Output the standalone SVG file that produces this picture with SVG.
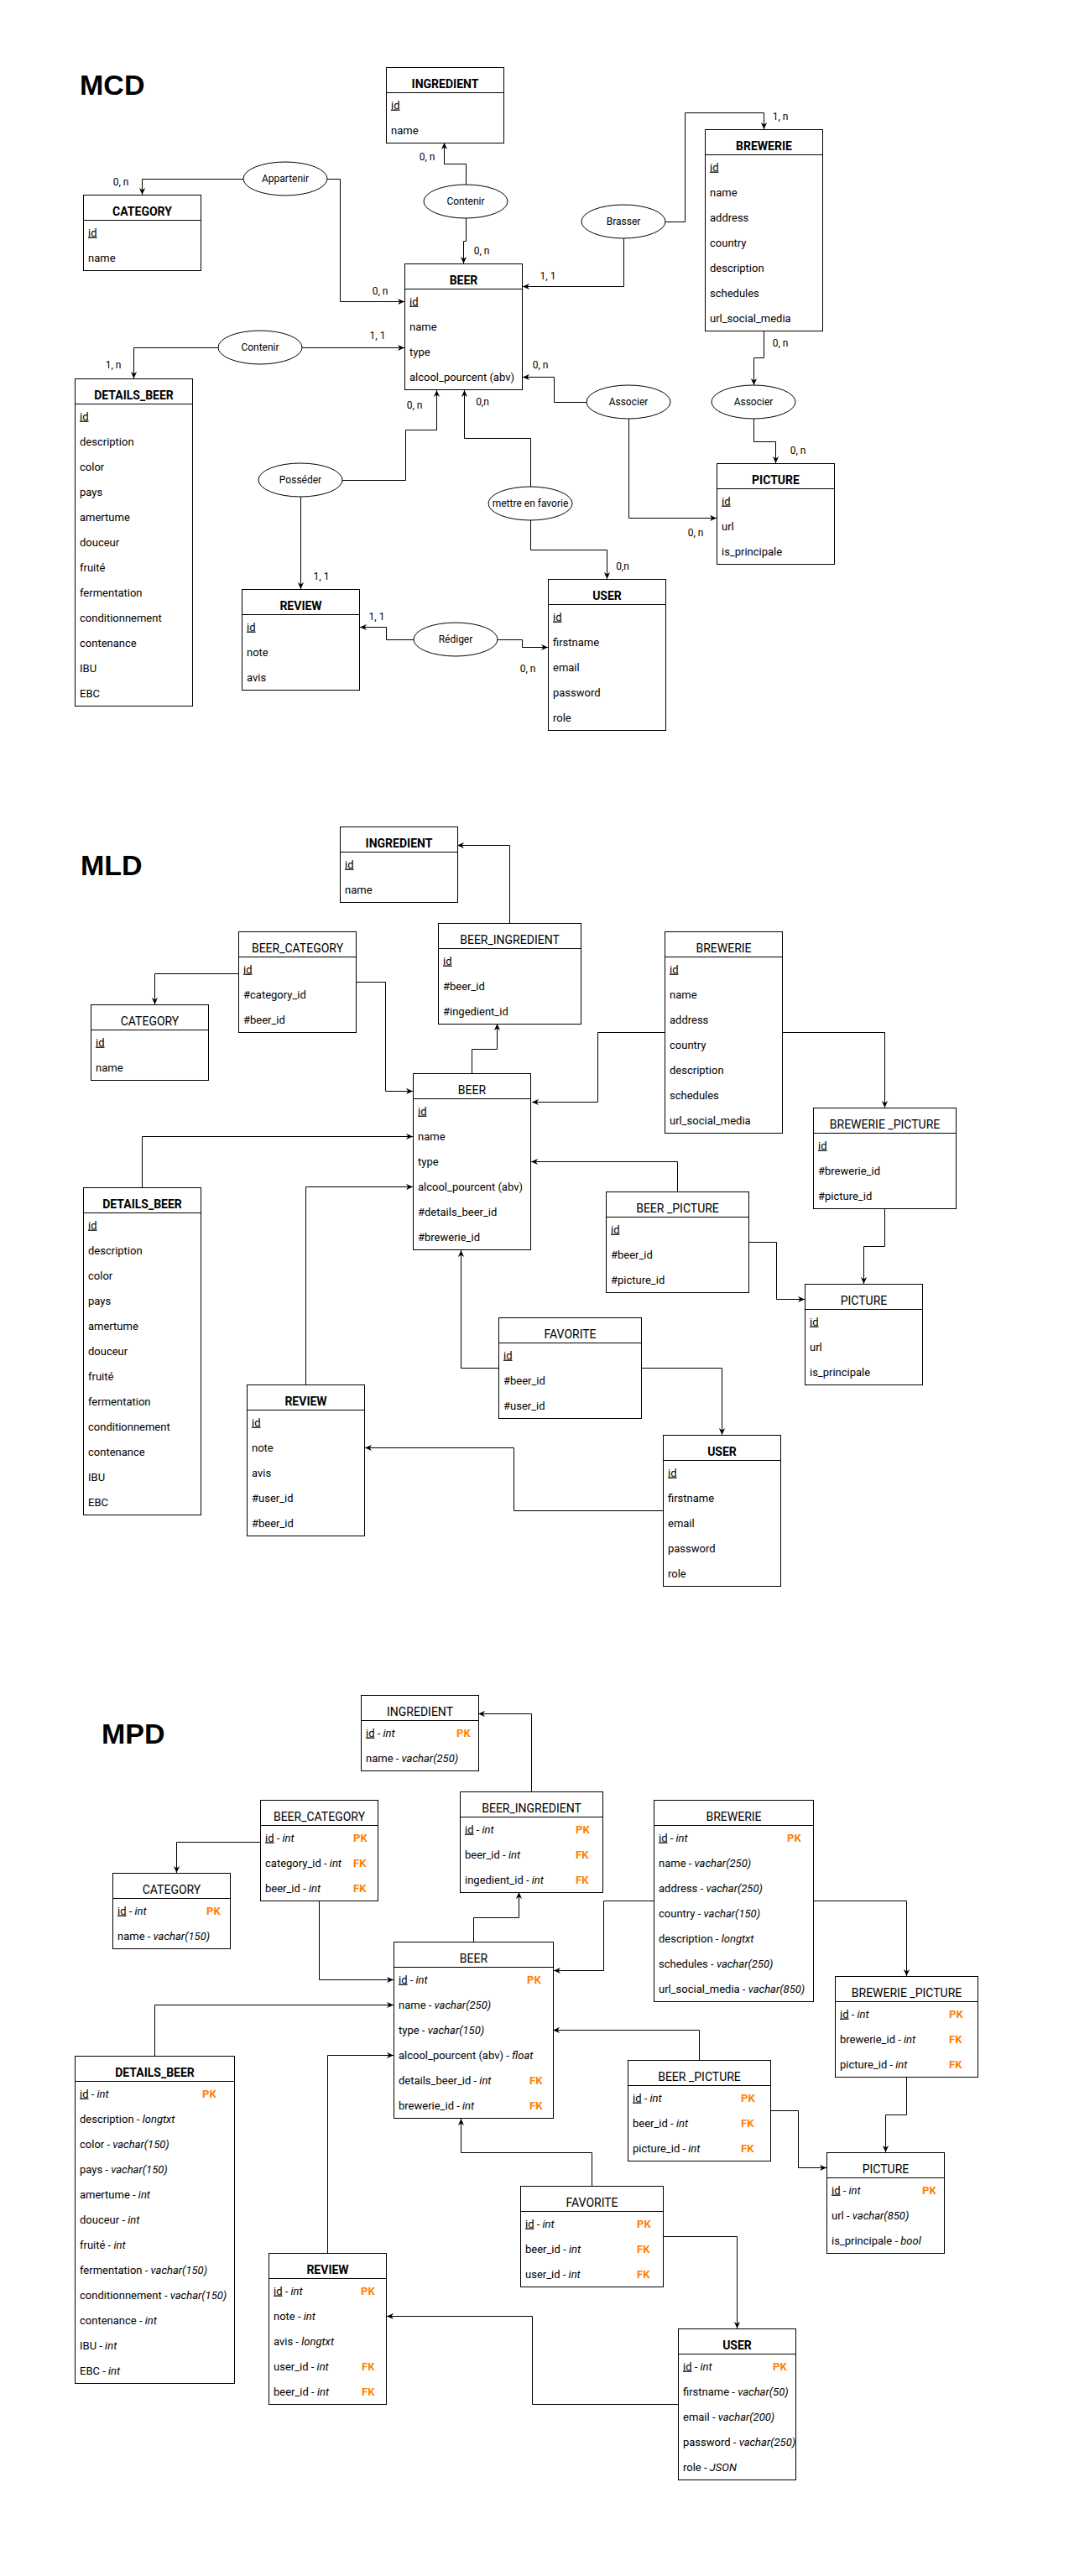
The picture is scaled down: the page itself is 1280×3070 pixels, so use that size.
<svg xmlns="http://www.w3.org/2000/svg" width="1280" height="3070" viewBox="0 0 1280 3070">
<defs>
<style>
text{font-family:Roboto,"Liberation Sans",Arial,sans-serif;fill:#000}
.box{fill:#fff;stroke:#000;stroke-width:1}
.sep{stroke:#000;stroke-width:1}
.title{font-family:"Liberation Sans",Arial,sans-serif;font-size:34px;font-weight:bold}
.hd{font-size:14px;text-anchor:middle}
.b{font-weight:bold}
.row{font-size:13px}
.u{text-decoration:underline}
.t{font-style:italic}
.key{font-size:13px;font-weight:bold;fill:#FF8000}
.rel{fill:#fff;stroke:#000;stroke-width:1}
.rlt{font-size:12px;text-anchor:middle}
.card{font-size:12px;text-anchor:middle}
.cx{fill:none;stroke:#000;stroke-width:1;marker-end:url(#arr)}
</style>
<marker id="arr" viewBox="0 0 10 10" refX="10" refY="5" markerWidth="8" markerHeight="8" orient="auto" markerUnits="userSpaceOnUse">
<path d="M0,0.5 L10,5 L0,9.5 L3,5 Z" fill="#000"/>
</marker>
</defs>
<rect x="0" y="0" width="1280" height="3070" fill="#fff"/>

<!-- ===================== MCD ===================== -->
<text class="title" x="95" y="113">MCD</text>

<g id="mcd-links">
<path class="cx" d="M290,213.5 H169.5 V232"/>
<path class="cx" d="M390,213.5 H405.5 V359.5 H482"/>
<path class="cx" d="M555.5,220 V195.5 H529.5 V170"/>
<path class="cx" d="M555.5,260 V287.5 H552.5 V314"/>
<path class="cx" d="M260,414.5 H159.5 V451"/>
<path class="cx" d="M360,414.5 H482"/>
<path class="cx" d="M793,264.5 H816.5 V134.5 H910.5 V154"/>
<path class="cx" d="M743.5,284 V341.5 H623"/>
<path class="cx" d="M910.5,394 V426.5 H898.5 V459"/>
<path class="cx" d="M898.5,499 V526.5 H924.5 V552"/>
<path class="cx" d="M699,479.5 H660.5 V449.5 H623"/>
<path class="cx" d="M749.5,499 V617.5 H854"/>
<path class="cx" d="M632.5,580 V522.5 H553.5 V465"/>
<path class="cx" d="M632.5,620 V655.5 H723.5 V690"/>
<path class="cx" d="M408,572.5 H483.5 V512.5 H520.5 V465"/>
<path class="cx" d="M358.5,592 V702"/>
<path class="cx" d="M493,762.5 H460.5 V747.5 H429"/>
<path class="cx" d="M593,762.5 H622.5 V771.5 H653"/>
</g>

<g id="mcd-cardinalities">
<text class="card" x="144" y="221">0, n</text>
<text class="card" x="453" y="351">0, n</text>
<text class="card" x="509" y="191">0, n</text>
<text class="card" x="574" y="303">0, n</text>
<text class="card" x="135" y="439">1, n</text>
<text class="card" x="450" y="404">1, 1</text>
<text class="card" x="930" y="143">1, n</text>
<text class="card" x="653" y="333">1, 1</text>
<text class="card" x="930" y="413">0, n</text>
<text class="card" x="951" y="541">0, n</text>
<text class="card" x="644" y="439">0, n</text>
<text class="card" x="829" y="639">0, n</text>
<text class="card" x="575" y="483">0,n</text>
<text class="card" x="742" y="679">0,n</text>
<text class="card" x="494" y="487">0, n</text>
<text class="card" x="383" y="691">1, 1</text>
<text class="card" x="449" y="739">1, 1</text>
<text class="card" x="629" y="801">0, n</text>
</g>

<g id="mcd-appartenir"><ellipse class="rel" cx="340" cy="213" rx="50" ry="20"/><text class="rlt" x="340" y="217">Appartenir</text></g>
<g id="mcd-contenir-ingredient"><ellipse class="rel" cx="555" cy="240" rx="50" ry="20"/><text class="rlt" x="555" y="244">Contenir</text></g>
<g id="mcd-contenir-details"><ellipse class="rel" cx="310" cy="414" rx="50" ry="20"/><text class="rlt" x="310" y="418">Contenir</text></g>
<g id="mcd-brasser"><ellipse class="rel" cx="743" cy="264" rx="50" ry="20"/><text class="rlt" x="743" y="268">Brasser</text></g>
<g id="mcd-associer-beer"><ellipse class="rel" cx="749" cy="479" rx="50" ry="20"/><text class="rlt" x="749" y="483">Associer</text></g>
<g id="mcd-associer-brewerie"><ellipse class="rel" cx="898" cy="479" rx="50" ry="20"/><text class="rlt" x="898" y="483">Associer</text></g>
<g id="mcd-favorie"><ellipse class="rel" cx="632" cy="600" rx="50" ry="20"/><text class="rlt" x="632" y="604">mettre en favorie</text></g>
<g id="mcd-posseder"><ellipse class="rel" cx="358" cy="572" rx="50" ry="20"/><text class="rlt" x="358" y="576">Posséder</text></g>
<g id="mcd-rediger"><ellipse class="rel" cx="543" cy="762" rx="50" ry="20"/><text class="rlt" x="543" y="766">Rédiger</text></g>

<g id="mcd-ingredient">
<rect class="box" x="460.5" y="80.5" width="140" height="90"/>
<line class="sep" x1="460.5" y1="110.5" x2="600.5" y2="110.5"/>
<text class="hd b" x="530.5" y="105">INGREDIENT</text>
<text class="row" x="466" y="129.5"><tspan class="u">id</tspan></text>
<text class="row" x="466" y="159.5">name</text>
</g>

<g id="mcd-category">
<rect class="box" x="99.5" y="232.5" width="140" height="90"/>
<line class="sep" x1="99.5" y1="262.5" x2="239.5" y2="262.5"/>
<text class="hd b" x="169.5" y="257">CATEGORY</text>
<text class="row" x="105" y="281.5"><tspan class="u">id</tspan></text>
<text class="row" x="105" y="311.5">name</text>
</g>

<g id="mcd-beer">
<rect class="box" x="482.5" y="314.5" width="140" height="150"/>
<line class="sep" x1="482.5" y1="344.5" x2="622.5" y2="344.5"/>
<text class="hd b" x="552.5" y="339">BEER</text>
<text class="row" x="488" y="363.5"><tspan class="u">id</tspan></text>
<text class="row" x="488" y="393.5">name</text>
<text class="row" x="488" y="423.5">type</text>
<text class="row" x="488" y="453.5">alcool_pourcent (abv)</text>
</g>

<g id="mcd-brewerie">
<rect class="box" x="840.5" y="154.5" width="140" height="240"/>
<line class="sep" x1="840.5" y1="184.5" x2="980.5" y2="184.5"/>
<text class="hd b" x="910.5" y="179">BREWERIE</text>
<text class="row" x="846" y="203.5"><tspan class="u">id</tspan></text>
<text class="row" x="846" y="233.5">name</text>
<text class="row" x="846" y="263.5">address</text>
<text class="row" x="846" y="293.5">country</text>
<text class="row" x="846" y="323.5">description</text>
<text class="row" x="846" y="353.5">schedules</text>
<text class="row" x="846" y="383.5">url_social_media</text>
</g>

<g id="mcd-details-beer">
<rect class="box" x="89.5" y="451.5" width="140" height="390"/>
<line class="sep" x1="89.5" y1="481.5" x2="229.5" y2="481.5"/>
<text class="hd b" x="159.5" y="476">DETAILS_BEER</text>
<text class="row" x="95" y="500.5"><tspan class="u">id</tspan></text>
<text class="row" x="95" y="530.5">description</text>
<text class="row" x="95" y="560.5">color</text>
<text class="row" x="95" y="590.5">pays</text>
<text class="row" x="95" y="620.5">amertume</text>
<text class="row" x="95" y="650.5">douceur</text>
<text class="row" x="95" y="680.5">fruité</text>
<text class="row" x="95" y="710.5">fermentation</text>
<text class="row" x="95" y="740.5">conditionnement</text>
<text class="row" x="95" y="770.5">contenance</text>
<text class="row" x="95" y="800.5">IBU</text>
<text class="row" x="95" y="830.5">EBC</text>
</g>

<g id="mcd-review">
<rect class="box" x="288.5" y="702.5" width="140" height="120"/>
<line class="sep" x1="288.5" y1="732.5" x2="428.5" y2="732.5"/>
<text class="hd b" x="358.5" y="727">REVIEW</text>
<text class="row" x="294" y="751.5"><tspan class="u">id</tspan></text>
<text class="row" x="294" y="781.5">note</text>
<text class="row" x="294" y="811.5">avis</text>
</g>

<g id="mcd-user">
<rect class="box" x="653.5" y="690.5" width="140" height="180"/>
<line class="sep" x1="653.5" y1="720.5" x2="793.5" y2="720.5"/>
<text class="hd b" x="723.5" y="715">USER</text>
<text class="row" x="659" y="739.5"><tspan class="u">id</tspan></text>
<text class="row" x="659" y="769.5">firstname</text>
<text class="row" x="659" y="799.5">email</text>
<text class="row" x="659" y="829.5">password</text>
<text class="row" x="659" y="859.5">role</text>
</g>

<g id="mcd-picture">
<rect class="box" x="854.5" y="552.5" width="140" height="120"/>
<line class="sep" x1="854.5" y1="582.5" x2="994.5" y2="582.5"/>
<text class="hd b" x="924.5" y="577">PICTURE</text>
<text class="row" x="860" y="601.5"><tspan class="u">id</tspan></text>
<text class="row" x="860" y="631.5">url</text>
<text class="row" x="860" y="661.5">is_principale</text>
</g>

<!-- ===================== MLD ===================== -->
<text class="title" x="96" y="1043">MLD</text>

<g id="mld-links">
<path class="cx" d="M607.5,1100 V1007.5 H545"/>
<path class="cx" d="M562.5,1279 V1250.5 H592.5 V1220"/>
<path class="cx" d="M284,1160.5 H184.5 V1197"/>
<path class="cx" d="M424,1170.5 H459.5 V1300.5 H492"/>
<path class="cx" d="M792,1230.5 H712.5 V1313.5 H634"/>
<path class="cx" d="M932,1230.5 H1054.5 V1320"/>
<path class="cx" d="M1054.5,1440 V1485.5 H1029.5 V1530"/>
<path class="cx" d="M892,1480.5 H925.5 V1548.5 H959"/>
<path class="cx" d="M807.5,1420 V1384.5 H633"/>
<path class="cx" d="M594,1630.5 H549.5 V1490"/>
<path class="cx" d="M764,1630.5 H860.5 V1710"/>
<path class="cx" d="M790,1800.5 H612.5 V1725.5 H435"/>
<path class="cx" d="M364.5,1650 V1414.5 H492"/>
<path class="cx" d="M169.5,1415 V1354.5 H492"/>
</g>

<g id="mld-ingredient">
<rect class="box" x="405.5" y="985.5" width="140" height="90"/>
<line class="sep" x1="405.5" y1="1015.5" x2="545.5" y2="1015.5"/>
<text class="hd b" x="475.5" y="1010">INGREDIENT</text>
<text class="row" x="411" y="1034.5"><tspan class="u">id</tspan></text>
<text class="row" x="411" y="1064.5">name</text>
</g>

<g id="mld-beer-category">
<rect class="box" x="284.5" y="1110.5" width="140" height="120"/>
<line class="sep" x1="284.5" y1="1140.5" x2="424.5" y2="1140.5"/>
<text class="hd" x="354.5" y="1135">BEER_CATEGORY</text>
<text class="row" x="290" y="1159.5"><tspan class="u">id</tspan></text>
<text class="row" x="290" y="1189.5">#category_id</text>
<text class="row" x="290" y="1219.5">#beer_id</text>
</g>

<g id="mld-category">
<rect class="box" x="108.5" y="1197.5" width="140" height="90"/>
<line class="sep" x1="108.5" y1="1227.5" x2="248.5" y2="1227.5"/>
<text class="hd" x="178.5" y="1222">CATEGORY</text>
<text class="row" x="114" y="1246.5"><tspan class="u">id</tspan></text>
<text class="row" x="114" y="1276.5">name</text>
</g>

<g id="mld-beer-ingredient">
<rect class="box" x="522.5" y="1100.5" width="170" height="120"/>
<line class="sep" x1="522.5" y1="1130.5" x2="692.5" y2="1130.5"/>
<text class="hd" x="607.5" y="1125">BEER_INGREDIENT</text>
<text class="row" x="528" y="1149.5"><tspan class="u">id</tspan></text>
<text class="row" x="528" y="1179.5">#beer_id</text>
<text class="row" x="528" y="1209.5">#ingedient_id</text>
</g>

<g id="mld-beer">
<rect class="box" x="492.5" y="1279.5" width="140" height="210"/>
<line class="sep" x1="492.5" y1="1309.5" x2="632.5" y2="1309.5"/>
<text class="hd" x="562.5" y="1304">BEER</text>
<text class="row" x="498" y="1328.5"><tspan class="u">id</tspan></text>
<text class="row" x="498" y="1358.5">name</text>
<text class="row" x="498" y="1388.5">type</text>
<text class="row" x="498" y="1418.5">alcool_pourcent (abv)</text>
<text class="row" x="498" y="1448.5">#details_beer_id</text>
<text class="row" x="498" y="1478.5">#brewerie_id</text>
</g>

<g id="mld-brewerie">
<rect class="box" x="792.5" y="1110.5" width="140" height="240"/>
<line class="sep" x1="792.5" y1="1140.5" x2="932.5" y2="1140.5"/>
<text class="hd" x="862.5" y="1135">BREWERIE</text>
<text class="row" x="798" y="1159.5"><tspan class="u">id</tspan></text>
<text class="row" x="798" y="1189.5">name</text>
<text class="row" x="798" y="1219.5">address</text>
<text class="row" x="798" y="1249.5">country</text>
<text class="row" x="798" y="1279.5">description</text>
<text class="row" x="798" y="1309.5">schedules</text>
<text class="row" x="798" y="1339.5">url_social_media</text>
</g>

<g id="mld-brewerie-picture">
<rect class="box" x="969.5" y="1320.5" width="170" height="120"/>
<line class="sep" x1="969.5" y1="1350.5" x2="1139.5" y2="1350.5"/>
<text class="hd" x="1054.5" y="1345">BREWERIE _PICTURE</text>
<text class="row" x="975" y="1369.5"><tspan class="u">id</tspan></text>
<text class="row" x="975" y="1399.5">#brewerie_id</text>
<text class="row" x="975" y="1429.5">#picture_id</text>
</g>

<g id="mld-beer-picture">
<rect class="box" x="722.5" y="1420.5" width="170" height="120"/>
<line class="sep" x1="722.5" y1="1450.5" x2="892.5" y2="1450.5"/>
<text class="hd" x="807.5" y="1445">BEER _PICTURE</text>
<text class="row" x="728" y="1469.5"><tspan class="u">id</tspan></text>
<text class="row" x="728" y="1499.5">#beer_id</text>
<text class="row" x="728" y="1529.5">#picture_id</text>
</g>

<g id="mld-picture">
<rect class="box" x="959.5" y="1530.5" width="140" height="120"/>
<line class="sep" x1="959.5" y1="1560.5" x2="1099.5" y2="1560.5"/>
<text class="hd" x="1029.5" y="1555">PICTURE</text>
<text class="row" x="965" y="1579.5"><tspan class="u">id</tspan></text>
<text class="row" x="965" y="1609.5">url</text>
<text class="row" x="965" y="1639.5">is_principale</text>
</g>

<g id="mld-favorite">
<rect class="box" x="594.5" y="1570.5" width="170" height="120"/>
<line class="sep" x1="594.5" y1="1600.5" x2="764.5" y2="1600.5"/>
<text class="hd" x="679.5" y="1595">FAVORITE</text>
<text class="row" x="600" y="1619.5"><tspan class="u">id</tspan></text>
<text class="row" x="600" y="1649.5">#beer_id</text>
<text class="row" x="600" y="1679.5">#user_id</text>
</g>

<g id="mld-user">
<rect class="box" x="790.5" y="1710.5" width="140" height="180"/>
<line class="sep" x1="790.5" y1="1740.5" x2="930.5" y2="1740.5"/>
<text class="hd b" x="860.5" y="1735">USER</text>
<text class="row" x="796" y="1759.5"><tspan class="u">id</tspan></text>
<text class="row" x="796" y="1789.5">firstname</text>
<text class="row" x="796" y="1819.5">email</text>
<text class="row" x="796" y="1849.5">password</text>
<text class="row" x="796" y="1879.5">role</text>
</g>

<g id="mld-details-beer">
<rect class="box" x="99.5" y="1415.5" width="140" height="390"/>
<line class="sep" x1="99.5" y1="1445.5" x2="239.5" y2="1445.5"/>
<text class="hd b" x="169.5" y="1440">DETAILS_BEER</text>
<text class="row" x="105" y="1464.5"><tspan class="u">id</tspan></text>
<text class="row" x="105" y="1494.5">description</text>
<text class="row" x="105" y="1524.5">color</text>
<text class="row" x="105" y="1554.5">pays</text>
<text class="row" x="105" y="1584.5">amertume</text>
<text class="row" x="105" y="1614.5">douceur</text>
<text class="row" x="105" y="1644.5">fruité</text>
<text class="row" x="105" y="1674.5">fermentation</text>
<text class="row" x="105" y="1704.5">conditionnement</text>
<text class="row" x="105" y="1734.5">contenance</text>
<text class="row" x="105" y="1764.5">IBU</text>
<text class="row" x="105" y="1794.5">EBC</text>
</g>

<g id="mld-review">
<rect class="box" x="294.5" y="1650.5" width="140" height="180"/>
<line class="sep" x1="294.5" y1="1680.5" x2="434.5" y2="1680.5"/>
<text class="hd b" x="364.5" y="1675">REVIEW</text>
<text class="row" x="300" y="1699.5"><tspan class="u">id</tspan></text>
<text class="row" x="300" y="1729.5">note</text>
<text class="row" x="300" y="1759.5">avis</text>
<text class="row" x="300" y="1789.5">#user_id</text>
<text class="row" x="300" y="1819.5">#beer_id</text>
</g>

<!-- ===================== MPD ===================== -->
<text class="title" x="121" y="2078">MPD</text>

<g id="mpd-links">
<path class="cx" d="M633.5,2135 V2042.5 H570"/>
<path class="cx" d="M564.5,2314 V2285.5 H618.5 V2255"/>
<path class="cx" d="M310,2195.5 H210.5 V2232"/>
<path class="cx" d="M380.5,2265 V2359.5 H469"/>
<path class="cx" d="M184.5,2450 V2389.5 H469"/>
<path class="cx" d="M390.5,2685 V2449.5 H469"/>
<path class="cx" d="M779,2265.5 H719.5 V2348.5 H660"/>
<path class="cx" d="M969,2265.5 H1080.5 V2355"/>
<path class="cx" d="M833.5,2455 V2419.5 H659"/>
<path class="cx" d="M1080.5,2475 V2520.5 H1055.5 V2565"/>
<path class="cx" d="M918,2515.5 H951.5 V2583.5 H985"/>
<path class="cx" d="M705.5,2605 V2565.5 H549.5 V2525"/>
<path class="cx" d="M790,2665.5 H878.5 V2775"/>
<path class="cx" d="M808,2865.5 H634.5 V2760.5 H461"/>
</g>

<g id="mpd-ingredient">
<rect class="box" x="430.5" y="2020.5" width="140" height="90"/>
<line class="sep" x1="430.5" y1="2050.5" x2="570.5" y2="2050.5"/>
<text class="hd" x="500.5" y="2045">INGREDIENT</text>
<text class="row" x="436" y="2069.5"><tspan class="u">id</tspan> - <tspan class="t">int</tspan></text>
<text class="key" x="544" y="2069.5">PK</text>
<text class="row" x="436" y="2099.5">name - <tspan class="t">vachar(250)</tspan></text>
</g>

<g id="mpd-beer-category">
<rect class="box" x="310.5" y="2145.5" width="140" height="120"/>
<line class="sep" x1="310.5" y1="2175.5" x2="450.5" y2="2175.5"/>
<text class="hd" x="380.5" y="2170">BEER_CATEGORY</text>
<text class="row" x="316" y="2194.5"><tspan class="u">id</tspan> - <tspan class="t">int</tspan></text>
<text class="key" x="421" y="2194.5">PK</text>
<text class="row" x="316" y="2224.5">category_id - <tspan class="t">int</tspan></text>
<text class="key" x="421" y="2224.5">FK</text>
<text class="row" x="316" y="2254.5">beer_id - <tspan class="t">int</tspan></text>
<text class="key" x="421" y="2254.5">FK</text>
</g>

<g id="mpd-category">
<rect class="box" x="134.5" y="2232.5" width="140" height="90"/>
<line class="sep" x1="134.5" y1="2262.5" x2="274.5" y2="2262.5"/>
<text class="hd" x="204.5" y="2257">CATEGORY</text>
<text class="row" x="140" y="2281.5"><tspan class="u">id</tspan> - <tspan class="t">int</tspan></text>
<text class="key" x="246" y="2281.5">PK</text>
<text class="row" x="140" y="2311.5">name - <tspan class="t">vachar(150)</tspan></text>
</g>

<g id="mpd-beer-ingredient">
<rect class="box" x="548.5" y="2135.5" width="170" height="120"/>
<line class="sep" x1="548.5" y1="2165.5" x2="718.5" y2="2165.5"/>
<text class="hd" x="633.5" y="2160">BEER_INGREDIENT</text>
<text class="row" x="554" y="2184.5"><tspan class="u">id</tspan> - <tspan class="t">int</tspan></text>
<text class="key" x="686" y="2184.5">PK</text>
<text class="row" x="554" y="2214.5">beer_id - <tspan class="t">int</tspan></text>
<text class="key" x="686" y="2214.5">FK</text>
<text class="row" x="554" y="2244.5">ingedient_id - <tspan class="t">int</tspan></text>
<text class="key" x="686" y="2244.5">FK</text>
</g>

<g id="mpd-beer">
<rect class="box" x="469.5" y="2314.5" width="190" height="210"/>
<line class="sep" x1="469.5" y1="2344.5" x2="659.5" y2="2344.5"/>
<text class="hd" x="564.5" y="2339">BEER</text>
<text class="row" x="475" y="2363.5"><tspan class="u">id</tspan> - <tspan class="t">int</tspan></text>
<text class="key" x="628" y="2363.5">PK</text>
<text class="row" x="475" y="2393.5">name - <tspan class="t">vachar(250)</tspan></text>
<text class="row" x="475" y="2423.5">type - <tspan class="t">vachar(150)</tspan></text>
<text class="row" x="475" y="2453.5">alcool_pourcent (abv) - <tspan class="t">float</tspan></text>
<text class="row" x="475" y="2483.5">details_beer_id - <tspan class="t">int</tspan></text>
<text class="key" x="631" y="2483.5">FK</text>
<text class="row" x="475" y="2513.5">brewerie_id - <tspan class="t">int</tspan></text>
<text class="key" x="631" y="2513.5">FK</text>
</g>

<g id="mpd-brewerie">
<rect class="box" x="779.5" y="2145.5" width="190" height="240"/>
<line class="sep" x1="779.5" y1="2175.5" x2="969.5" y2="2175.5"/>
<text class="hd" x="874.5" y="2170">BREWERIE</text>
<text class="row" x="785" y="2194.5"><tspan class="u">id</tspan> - <tspan class="t">int</tspan></text>
<text class="key" x="938" y="2194.5">PK</text>
<text class="row" x="785" y="2224.5">name - <tspan class="t">vachar(250)</tspan></text>
<text class="row" x="785" y="2254.5">address - <tspan class="t">vachar(250)</tspan></text>
<text class="row" x="785" y="2284.5">country - <tspan class="t">vachar(150)</tspan></text>
<text class="row" x="785" y="2314.5">description - <tspan class="t">longtxt</tspan></text>
<text class="row" x="785" y="2344.5">schedules - <tspan class="t">vachar(250)</tspan></text>
<text class="row" x="785" y="2374.5">url_social_media - <tspan class="t">vachar(850)</tspan></text>
</g>

<g id="mpd-brewerie-picture">
<rect class="box" x="995.5" y="2355.5" width="170" height="120"/>
<line class="sep" x1="995.5" y1="2385.5" x2="1165.5" y2="2385.5"/>
<text class="hd" x="1080.5" y="2380">BREWERIE _PICTURE</text>
<text class="row" x="1001" y="2404.5"><tspan class="u">id</tspan> - <tspan class="t">int</tspan></text>
<text class="key" x="1131" y="2404.5">PK</text>
<text class="row" x="1001" y="2434.5">brewerie_id - <tspan class="t">int</tspan></text>
<text class="key" x="1131" y="2434.5">FK</text>
<text class="row" x="1001" y="2464.5">picture_id - <tspan class="t">int</tspan></text>
<text class="key" x="1131" y="2464.5">FK</text>
</g>

<g id="mpd-beer-picture">
<rect class="box" x="748.5" y="2455.5" width="170" height="120"/>
<line class="sep" x1="748.5" y1="2485.5" x2="918.5" y2="2485.5"/>
<text class="hd" x="833.5" y="2480">BEER _PICTURE</text>
<text class="row" x="754" y="2504.5"><tspan class="u">id</tspan> - <tspan class="t">int</tspan></text>
<text class="key" x="883" y="2504.5">PK</text>
<text class="row" x="754" y="2534.5">beer_id - <tspan class="t">int</tspan></text>
<text class="key" x="883" y="2534.5">FK</text>
<text class="row" x="754" y="2564.5">picture_id - <tspan class="t">int</tspan></text>
<text class="key" x="883" y="2564.5">FK</text>
</g>

<g id="mpd-picture">
<rect class="box" x="985.5" y="2565.5" width="140" height="120"/>
<line class="sep" x1="985.5" y1="2595.5" x2="1125.5" y2="2595.5"/>
<text class="hd" x="1055.5" y="2590">PICTURE</text>
<text class="row" x="991" y="2614.5"><tspan class="u">id</tspan> - <tspan class="t">int</tspan></text>
<text class="key" x="1099" y="2614.5">PK</text>
<text class="row" x="991" y="2644.5">url - <tspan class="t">vachar(850)</tspan></text>
<text class="row" x="991" y="2674.5">is_principale - <tspan class="t">bool</tspan></text>
</g>

<g id="mpd-favorite">
<rect class="box" x="620.5" y="2605.5" width="170" height="120"/>
<line class="sep" x1="620.5" y1="2635.5" x2="790.5" y2="2635.5"/>
<text class="hd" x="705.5" y="2630">FAVORITE</text>
<text class="row" x="626" y="2654.5"><tspan class="u">id</tspan> - <tspan class="t">int</tspan></text>
<text class="key" x="759" y="2654.5">PK</text>
<text class="row" x="626" y="2684.5">beer_id - <tspan class="t">int</tspan></text>
<text class="key" x="759" y="2684.5">FK</text>
<text class="row" x="626" y="2714.5">user_id - <tspan class="t">int</tspan></text>
<text class="key" x="759" y="2714.5">FK</text>
</g>

<g id="mpd-user">
<rect class="box" x="808.5" y="2775.5" width="140" height="180"/>
<line class="sep" x1="808.5" y1="2805.5" x2="948.5" y2="2805.5"/>
<text class="hd b" x="878.5" y="2800">USER</text>
<text class="row" x="814" y="2824.5"><tspan class="u">id</tspan> - <tspan class="t">int</tspan></text>
<text class="key" x="921" y="2824.5">PK</text>
<text class="row" x="814" y="2854.5">firstname - <tspan class="t">vachar(50)</tspan></text>
<text class="row" x="814" y="2884.5">email - <tspan class="t">vachar(200)</tspan></text>
<text class="row" x="814" y="2914.5">password - <tspan class="t">vachar(250)</tspan></text>
<text class="row" x="814" y="2944.5">role - <tspan class="t">JSON</tspan></text>
</g>

<g id="mpd-details-beer">
<rect class="box" x="89.5" y="2450.5" width="190" height="390"/>
<line class="sep" x1="89.5" y1="2480.5" x2="279.5" y2="2480.5"/>
<text class="hd b" x="184.5" y="2475">DETAILS_BEER</text>
<text class="row" x="95" y="2499.5"><tspan class="u">id</tspan> - <tspan class="t">int</tspan></text>
<text class="key" x="241" y="2499.5">PK</text>
<text class="row" x="95" y="2529.5">description - <tspan class="t">longtxt</tspan></text>
<text class="row" x="95" y="2559.5">color - <tspan class="t">vachar(150)</tspan></text>
<text class="row" x="95" y="2589.5">pays - <tspan class="t">vachar(150)</tspan></text>
<text class="row" x="95" y="2619.5">amertume - <tspan class="t">int</tspan></text>
<text class="row" x="95" y="2649.5">douceur - <tspan class="t">int</tspan></text>
<text class="row" x="95" y="2679.5">fruité - <tspan class="t">int</tspan></text>
<text class="row" x="95" y="2709.5">fermentation - <tspan class="t">vachar(150)</tspan></text>
<text class="row" x="95" y="2739.5">conditionnement - <tspan class="t">vachar(150)</tspan></text>
<text class="row" x="95" y="2769.5">contenance - <tspan class="t">int</tspan></text>
<text class="row" x="95" y="2799.5">IBU - <tspan class="t">int</tspan></text>
<text class="row" x="95" y="2829.5">EBC - <tspan class="t">int</tspan></text>
</g>

<g id="mpd-review">
<rect class="box" x="320.5" y="2685.5" width="140" height="180"/>
<line class="sep" x1="320.5" y1="2715.5" x2="460.5" y2="2715.5"/>
<text class="hd b" x="390.5" y="2710">REVIEW</text>
<text class="row" x="326" y="2734.5"><tspan class="u">id</tspan> - <tspan class="t">int</tspan></text>
<text class="key" x="430" y="2734.5">PK</text>
<text class="row" x="326" y="2764.5">note - <tspan class="t">int</tspan></text>
<text class="row" x="326" y="2794.5">avis - <tspan class="t">longtxt</tspan></text>
<text class="row" x="326" y="2824.5">user_id - <tspan class="t">int</tspan></text>
<text class="key" x="431" y="2824.5">FK</text>
<text class="row" x="326" y="2854.5">beer_id - <tspan class="t">int</tspan></text>
<text class="key" x="431" y="2854.5">FK</text>
</g>
</svg>
